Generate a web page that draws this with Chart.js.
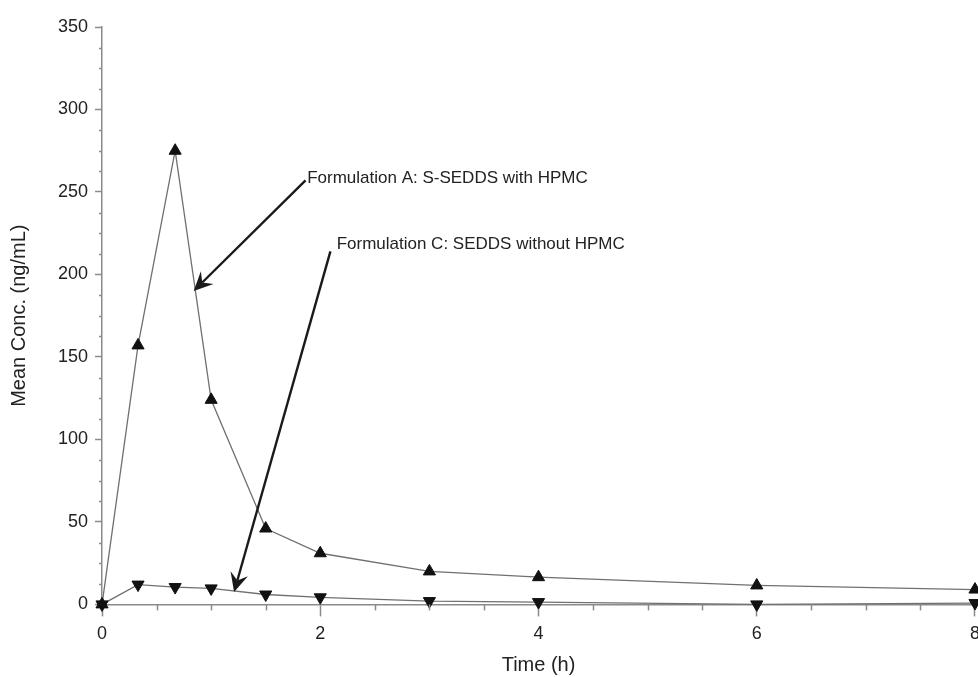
<!DOCTYPE html>
<html>
<head>
<meta charset="utf-8">
<script src="https://cdn.jsdelivr.net/npm/chart.js@4.4.1/dist/chart.umd.min.js"></script>
<style>
  html, body { margin: 0; padding: 0; background: #fff; overflow: hidden; }
  #wrap { position: absolute; left: 0; top: 0; width: 987px; height: 677px; }
</style>
</head>
<body>
<div id="wrap"><canvas id="pkChart"></canvas></div>
<script>
// sampling times (h) and mean plasma concentrations (ng/mL)
const timesH = [0, 0.33, 0.67, 1, 1.5, 2, 3, 4, 6, 8];
const concA  = [0, 157, 275, 124, 46, 31, 20, 16.5, 11.5, 9];
const concC  = [0, 12, 10.5, 9.7, 6, 4.3, 2, 1.4, 0, 0.8];

const labelA = 'Formulation A: S-SEDDS with HPMC';
const labelC = 'Formulation C: SEDDS without HPMC';

const xTicks = [0, 2, 4, 6, 8];
const yMax = 350;

// callouts in data units: text anchor, arrow tail, arrow tip
const callouts = [
  { text: labelA, tx: 1.88, ty: 258, x1: 1.865, y1: 257, x2: 0.84, y2: 190 },
  { text: labelC, tx: 2.15, ty: 218, x1: 2.093, y1: 214, x2: 1.21, y2: 7.5 }
];

const FONT = '"Liberation Sans", Arial, sans-serif';
const AXIS = '#8a8a8a';

function toPoints(xs, ys){ return xs.map((x, i) => ({ x, y: ys[i] })); }

function drawArrow(ctx, x1, y1, x2, y2){
  const a = Math.atan2(y2 - y1, x2 - x1);
  const c = Math.cos(a), s = Math.sin(a);
  const len = 19, half = 9, notch = 12;
  ctx.beginPath();
  ctx.moveTo(x1, y1);
  ctx.lineTo(x2 - c * notch, y2 - s * notch);
  ctx.stroke();
  ctx.beginPath();
  ctx.moveTo(x2, y2);
  ctx.lineTo(x2 - c * len - s * half, y2 - s * len + c * half);
  ctx.lineTo(x2 - c * notch, y2 - s * notch);
  ctx.lineTo(x2 - c * len + s * half, y2 - s * len - c * half);
  ctx.closePath();
  ctx.fill();
}

const extras = {
  id: 'extras',
  afterDatasetsDraw(chart){
    const { ctx, scales: { x, y } } = chart;
    ctx.save();
    // minor ticks
    ctx.strokeStyle = AXIS;
    ctx.lineWidth = 1.5;
    for (let v = 0; v <= yMax; v += 12.5) {
      if (v % 50 === 0) continue;
      const py = Math.round(y.getPixelForValue(v)) + 0.5;
      ctx.beginPath(); ctx.moveTo(x.left, py); ctx.lineTo(x.left - 3, py); ctx.stroke();
    }
    for (let v = 0; v <= 8; v += 0.5) {
      if (v % 2 === 0) continue;
      const px = Math.round(x.getPixelForValue(v)) + 0.5;
      ctx.beginPath(); ctx.moveTo(px, y.bottom); ctx.lineTo(px, y.bottom + 6); ctx.stroke();
    }
    // callouts
    ctx.lineWidth = 2.4;
    callouts.forEach(cl => {
      ctx.strokeStyle = '#1a1a1a';
      ctx.fillStyle = '#1a1a1a';
      drawArrow(ctx, x.getPixelForValue(cl.x1), y.getPixelForValue(cl.y1),
                     x.getPixelForValue(cl.x2), y.getPixelForValue(cl.y2));
      ctx.font = '17px ' + FONT;
      ctx.fillStyle = '#222';
      ctx.textAlign = 'left';
      ctx.textBaseline = 'middle';
      ctx.fillText(cl.text, x.getPixelForValue(cl.tx), y.getPixelForValue(cl.ty));
    });
    ctx.restore();
  }
};

new Chart(document.getElementById('pkChart'), {
  type: 'scatter',
  data: {
    datasets: [
      {
        label: labelA,
        data: toPoints(timesH, concA),
        showLine: true,
        borderColor: '#707070',
        borderWidth: 1.3,
        pointStyle: 'triangle',
        pointRadius: 7,
        pointBackgroundColor: '#111',
        pointBorderColor: '#111',
        pointBorderWidth: 1,
        clip: false
      },
      {
        label: labelC,
        data: toPoints(timesH, concC),
        showLine: true,
        borderColor: '#707070',
        borderWidth: 1.3,
        pointStyle: 'triangle',
        rotation: 180,
        pointRadius: 7,
        pointBackgroundColor: '#111',
        pointBorderColor: '#111',
        pointBorderWidth: 1,
        clip: false
      }
    ]
  },
  options: {
    responsive: true,
    maintainAspectRatio: false,
    animation: false,
    layout: { padding: { top: 27, left: 0, bottom: 0, right: 0 } },
    plugins: { legend: { display: false }, tooltip: { enabled: false } },
    scales: {
      x: {
        type: 'linear',
        min: 0, max: 8,
        afterBuildTicks: s => { s.ticks = xTicks.map(v => ({ value: v })); },
        border: { color: AXIS, width: 1.5 },
        grid: { drawOnChartArea: false, drawTicks: true, tickLength: 12, tickColor: AXIS, tickWidth: 1.5 },
        ticks: { color: '#222', font: { family: FONT, size: 18 }, padding: 7, maxRotation: 0 },
        title: { display: true, text: 'Time (h)', color: '#222', font: { family: FONT, size: 20 }, padding: { top: 1, bottom: 0 } }
      },
      y: {
        min: 0, max: yMax,
        ticks: { stepSize: 50, color: '#222', font: { family: FONT, size: 18 }, padding: 7 },
        border: { color: AXIS, width: 1.5 },
        grid: { drawOnChartArea: false, drawTicks: true, tickLength: 7, tickColor: AXIS, tickWidth: 1.5 },
        title: { display: true, text: 'Mean Conc. (ng/mL)', color: '#222', font: { family: FONT, size: 20 }, padding: { top: 7, bottom: 20 } }
      }
    }
  },
  plugins: [extras]
});
</script>
</body>
</html>
